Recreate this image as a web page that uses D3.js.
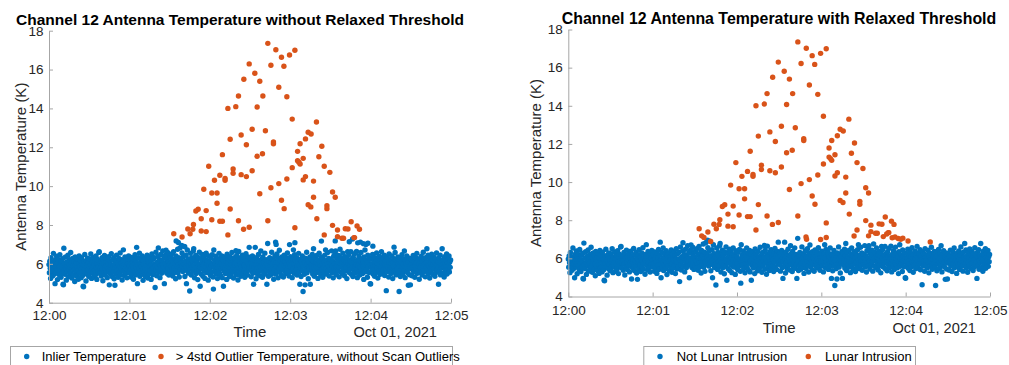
<!DOCTYPE html>
<html>
<head>
<meta charset="utf-8">
<script src="https://cdn.jsdelivr.net/npm/d3@7"></script>
<style>
  html, body { margin: 0; padding: 0; background: #ffffff; }
  svg { display: block; font-family: "Liberation Sans", Arial, Helvetica, sans-serif; }
</style>
</head>
<body>
<svg id="chart" width="1009" height="365"></svg>
<script>
// ---- data -------------------------------------------------------------
const startTime = new Date(2021, 9, 1, 12, 0, 0);
const endTime = new Date(2021, 9, 1, 12, 5, 0);
const sampleStep = 0.3;            // seconds between consecutive cold-space samples
const yTicks = [4, 6, 8, 10, 12, 14, 16, 18];
const timeTickMinutes = [0, 1, 2, 3, 4, 5];

// antenna temperature (K) of every sample that stays an inlier in both views
const inlierTemps = [
  5.96, 5.54, 6.13, 5.77, 5.25, 6.31, 5.86, 5.60, 6.09, 5.37,
  5.90, 6.54, 5.69, 6.00, 5.48, 4.98, 6.20, 5.81, 5.56, 6.39,
  5.71, 5.19, 6.04, 6.22, 5.64, 5.87, 5.42, 6.47, 5.75, 5.93,
  5.31, 6.16, 5.83, 5.52, 6.27, 4.95, 4.92, 6.80, 5.67, 6.01,
  5.46, 6.35, 5.79, 5.16, 6.10, 5.91, 5.62, 6.44, 5.33, 5.97,
  5.74, 6.21, 5.50, 5.85, 6.58, 5.55, 6.05, 5.27, 5.78, 6.28,
  5.89, 5.43, 6.14, 5.70, 5.09, 6.36, 5.94, 5.59, 6.06, 5.36,
  5.82, 6.24, 5.66, 5.21, 6.02, 6.41, 5.51, 5.87, 6.18, 5.58,
  5.29, 6.32, 5.77, 5.98, 5.40, 4.85, 4.82, 6.12, 5.73, 6.48,
  5.55, 5.90, 5.12, 6.17, 5.83, 5.47, 6.29, 5.69, 6.04, 5.35,

  5.86, 6.25, 5.50, 5.96, 6.51, 5.64, 5.25, 6.08, 5.75, 5.56,
  6.33, 5.90, 5.32, 6.01, 6.16, 5.67, 5.44, 6.40, 5.82, 5.20,
  6.05, 6.22, 5.60, 5.85, 6.59, 6.62, 5.52, 5.97, 5.77, 6.12,
  5.37, 5.89, 6.31, 5.71, 5.13, 6.18, 6.00, 5.54, 6.43, 5.79,
  5.42, 6.09, 5.91, 5.63, 6.27, 5.29, 6.02, 5.74, 6.37, 5.58,
  4.92, 5.83, 6.14, 5.48, 5.94, 6.52, 5.69, 5.35, 6.20, 5.87,
  5.59, 6.32, 5.23, 5.98, 4.90, 5.78, 6.17, 5.46, 6.45, 5.81,
  5.66, 6.06, 5.31, 5.93, 6.28, 5.55, 5.86, 6.56, 5.43, 6.04,
  5.73, 6.21, 5.17, 5.90, 6.13, 6.72, 5.62, 5.97, 5.39, 6.36,
  5.78, 5.51, 6.10, 5.85, 5.28, 6.24, 5.70, 6.01, 6.41, 5.54,

  5.89, 5.58, 6.18, 5.74, 5.32, 6.33, 5.96, 5.50, 6.10, 5.81,
  5.21, 6.25, 5.64, 6.00, 6.47, 5.42, 5.85, 6.16, 6.85, 5.70,
  4.98, 5.93, 6.31, 5.54, 5.78, 6.55, 5.36, 6.05, 5.66, 6.22,
  5.87, 5.46, 6.40, 5.75, 5.15, 6.12, 5.97, 5.60, 6.28, 5.82,
  5.35, 6.08, 5.91, 5.56, 6.44, 5.71, 5.27, 6.20, 6.02, 5.50,
  6.36, 5.86, 5.63, 6.14, 5.20, 5.94, 6.51, 5.73, 5.44, 6.24,
  5.79, 5.55, 6.32, 5.98, 4.78, 5.89, 6.60, 5.67, 5.39, 6.09,
  5.83, 6.39, 6.82, 5.59, 6.01, 6.21, 5.29, 5.90, 6.48, 5.77,
  5.51, 6.17, 5.96, 6.67, 5.64, 5.85, 6.29, 4.98, 6.02, 6.43,
  5.70, 6.70, 5.87, 5.52, 6.25, 6.58, 5.78, 6.10, 5.42, 6.35,

  5.98, 5.63, 6.35, 5.86, 5.48, 6.51, 5.74, 6.17, 5.37, 5.94,
  6.63, 5.79, 5.56, 6.27, 6.02, 5.23, 6.41, 5.69, 6.12, 5.87,
  6.75, 5.54, 5.97, 6.32, 5.32, 5.82, 6.82, 5.71, 6.20, 6.05,
  6.95, 6.56, 5.90, 5.60, 6.37, 6.00, 6.90, 5.78, 5.35, 6.14,
  5.85, 6.45, 4.98, 5.66, 6.71, 5.96, 6.25, 5.52, 5.89, 6.09,
  4.60, 5.73, 6.54, 6.01, 5.42, 6.31, 5.83, 6.13, 5.62, 6.66,
  6.78, 5.91, 5.28, 6.22, 5.77, 6.43, 5.50, 6.05, 6.18, 5.67,
  5.19, 6.33, 5.87, 5.58, 6.60, 5.97, 4.85, 5.81, 6.27, 5.46,
  6.10, 5.75, 6.48, 5.36, 5.93, 6.36, 5.64, 6.02, 5.25, 6.21,
  5.85, 6.55, 5.55, 6.00, 6.16, 5.70, 5.16, 6.40, 5.90, 5.51,

  6.09, 5.77, 5.40, 6.32, 5.89, 5.58, 6.47, 5.97, 5.32, 4.70,
  6.71, 5.82, 6.17, 5.64, 6.02, 6.39, 5.47, 5.86, 6.24, 5.24,
  5.94, 6.12, 5.70, 6.54, 5.52, 5.90, 6.29, 5.39, 6.05, 5.74,
  6.41, 5.29, 5.85, 6.20, 4.85, 6.00, 5.62, 6.35, 5.79, 5.50,
  6.14, 5.91, 5.20, 6.49, 5.71, 6.04, 6.25, 5.55, 5.87, 5.35,
  6.37, 5.78, 6.08, 5.46, 5.96, 6.58, 5.66, 5.83, 6.18, 5.27,
  6.01, 6.31, 5.59, 5.89, 6.06, 6.68, 5.43, 6.43, 5.75, 5.93,
  5.17, 6.22, 6.64, 5.81, 5.56, 6.13, 5.98, 5.36, 6.33, 5.86,
  5.69, 6.45, 5.48, 6.05, 6.21, 5.63, 5.94, 5.31, 6.28, 5.79,
  6.52, 5.54, 5.90, 6.16, 5.42, 6.01, 6.36, 5.73, 6.85, 5.85,

  5.97, 6.27, 5.66, 5.33, 6.10, 5.89, 6.41, 5.51, 6.04, 4.95,
  5.81, 6.20, 5.59, 6.85, 5.96, 5.23, 6.32, 5.74, 6.12, 5.46,
  5.91, 6.48, 5.63, 6.00, 6.17, 5.39, 5.83, 6.66, 5.70, 6.24,
  6.02, 5.31, 6.36, 5.87, 5.55, 6.08, 5.78, 6.55, 5.48, 5.93,
  6.21, 5.67, 4.95, 6.01, 7.05, 5.85, 5.36, 6.14, 5.60, 6.31,
  5.90, 5.43, 6.09, 5.75, 6.60, 5.98, 5.52, 6.25, 5.82, 5.21,
  6.18, 5.71, 6.40, 5.94, 5.47, 6.06, 5.86, 6.51, 5.62, 6.05,
  5.28, 6.28, 5.79, 6.70, 5.96, 5.56, 6.16, 5.89, 5.40, 6.35,
  5.74, 6.02, 6.22, 5.32, 5.91, 6.44, 5.64, 6.12, 5.83, 5.50,
  6.32, 5.97, 5.69, 6.56, 5.54, 5.87, 6.20, 5.37, 6.04, 5.77,

  5.85, 6.37, 5.60, 6.13, 5.94, 5.29, 6.25, 5.77, 6.72, 6.02,
  5.51, 6.47, 5.82, 6.18, 5.66, 6.00, 6.32, 5.42, 5.90, 6.09,
  5.73, 6.54, 5.58, 5.93, 4.95, 6.22, 5.81, 5.35, 6.12, 5.97,
  6.41, 5.63, 4.58, 5.87, 6.17, 5.46, 6.05, 4.92, 6.29, 5.70,
  5.91, 6.60, 5.54, 6.01, 6.21, 5.23, 5.85, 6.10, 5.75, 6.36,
  4.95, 5.96, 6.25, 5.64, 5.89, 6.48, 5.48, 6.14, 6.78, 5.79,
  5.36, 6.31, 5.98, 5.67, 6.06, 5.86, 6.43, 5.55, 6.04, 5.25,
  6.20, 5.78, 6.55, 5.60, 5.94, 6.12, 5.43, 5.90, 6.35, 5.71,
  6.02, 5.31, 6.24, 5.83, 6.09, 5.52, 6.45, 5.93, 6.72, 5.74,
  5.47, 6.17, 6.00, 6.58, 5.63, 5.87, 6.28, 5.37, 6.08, 5.81,

  6.22, 5.70, 5.97, 6.67, 5.54, 5.90, 6.14, 5.28, 6.39, 5.78,
  6.02, 6.51, 5.62, 6.66, 5.86, 5.44, 6.27, 5.94, 6.10, 5.66,
  6.43, 5.82, 5.33, 6.18, 6.75, 6.00, 5.58, 6.32, 5.89, 6.08,
  5.50, 6.55, 5.74, 6.05, 6.20, 5.39, 5.93, 6.37, 5.63, 6.13,
  5.85, 5.24, 6.28, 6.62, 5.70, 6.01, 6.47, 5.55, 5.90, 6.17,
  5.75, 6.63, 5.46, 5.97, 6.24, 5.81, 5.35, 6.33, 6.05, 5.66,
  6.52, 5.87, 5.52, 6.12, 5.96, 6.64, 5.71, 5.29, 6.21, 5.91,
  5.60, 6.40, 6.02, 5.42, 6.16, 5.83, 6.59, 5.67, 5.98, 6.27,
  5.50, 5.89, 6.09, 5.20, 6.35, 5.78, 6.71, 5.59, 5.94, 6.18,
  5.73, 6.04, 5.31, 6.44, 5.86, 6.06, 5.56, 6.29, 5.96, 4.98,

  4.96, 5.81, 6.25, 5.64, 6.00, 6.48, 5.48, 5.87, 6.14, 5.71,
  5.36, 6.32, 5.93, 6.10, 5.56, 6.56, 5.79, 6.02, 5.27, 6.21,
  5.90, 5.63, 6.39, 5.97, 5.46, 6.17, 5.77, 6.63, 5.86, 6.06,
  5.52, 6.28, 5.70, 6.00, 6.45, 5.40, 5.91, 6.13, 5.74, 4.62,
  5.94, 6.35, 5.60, 5.85, 6.22, 5.32, 6.51, 6.04, 5.69, 5.89,
  6.16, 5.50, 5.98, 6.41, 5.78, 5.24, 6.09, 5.87, 6.27, 5.58,
  5.96, 6.58, 5.66, 5.43, 6.20, 5.83, 6.06, 5.74, 6.36, 6.01,
  5.54, 4.58, 5.90, 6.31, 5.35, 6.05, 6.12, 5.71, 6.47, 5.82,
  5.47, 5.97, 6.24, 5.63, 6.66, 5.89, 5.29, 6.17, 6.02, 5.67,
  6.40, 5.79, 5.55, 6.08, 4.90, 5.94, 6.29, 5.44, 5.86, 4.92,

  5.75, 6.22, 6.00, 5.39, 6.14, 5.83, 6.43, 5.60, 5.96, 6.10,
  5.31, 5.91, 6.33, 5.71, 6.04, 6.54, 5.51, 5.87, 6.18, 5.66,
  5.98, 5.21, 6.27, 5.81, 6.08, 5.56, 6.39, 5.93, 5.42, 6.16,
  5.77, 6.60, 5.89, 5.59, 6.24, 6.01, 5.33, 6.32, 5.85, 6.06,
  6.78, 5.69, 5.97, 6.44, 5.50, 5.90, 6.13, 5.27, 6.28, 5.79,
  6.02, 5.64, 6.49, 5.86, 6.20, 5.46, 5.94, 6.36, 5.74, 6.09,
  5.36, 6.25, 5.91, 5.55, 6.56, 5.98, 5.70, 6.14, 5.83, 4.95,
  6.31, 5.62, 6.05, 6.45, 5.43, 5.89, 6.12, 5.78, 6.78, 5.96,
  5.52, 6.21, 5.85, 5.32, 6.37, 6.01, 5.67, 6.17, 5.90, 6.51,
  5.48, 6.04, 6.27, 5.74, 5.93, 6.41, 5.58, 6.09, 5.82, 6.20
];

// samples above the 4-sigma threshold (seconds after 12:00, K)
const lunarSeconds = [
  163.3, 169.3, 183.5, 179.5, 173.5, 149.4, 165.6, 175.3, 153.6, 145.4,
  157.3, 171.5, 141.4, 159.6, 177.5, 133.5, 139.4, 155.3, 181.5, 199.6,
  151.6, 161.5, 143.4, 193.4, 195.6, 191.4, 135.2, 167.5, 167.5, 187.4,
  147.3, 203.6, 159.3, 129.4, 155.3, 201.4, 185.5, 185.5, 186.5, 187.4,
  189.7, 119.2, 181.5, 205.4, 137.4, 151.6, 209.6, 137.4, 143.4, 127.5,
  147.3, 191.4, 131.4, 131.4, 123.5, 177.5, 189.7, 197.4, 171.5, 165.6,
  115.5, 211.6, 121.5, 125.4, 157.3, 213.6, 197.4, 173.5, 125.4, 193.4,
  195.4, 207.4, 207.4, 175.5, 135.2, 111.3, 109.6, 117.3, 113.6, 199.9,
  121.5, 127.5, 129.4, 141.4, 163.3, 107.8, 211.6, 225.5, 149.4, 183.5,
  229.9, 145.2, 221.1, 223.1, 231.7, 103.6, 113.6, 117.3, 215.3, 107.3,
  105.3, 93.1, 133.5, 205.4, 99.3, 215.3, 228.0, 218.6, 219.8, 227.6
];
const lunarTemps = [
  17.35, 17.02, 16.99, 16.75, 16.63, 16.29, 16.22, 16.17, 15.81, 15.50,
  15.40, 15.09, 14.64, 14.64, 14.60, 14.00, 14.09, 14.07, 13.45, 13.30,
  12.93, 12.85, 12.63, 12.77, 12.68, 12.43, 12.41, 12.27, 12.18, 12.18,
  12.13, 12.05, 11.67, 11.62, 11.54, 11.51, 11.79, 11.31, 11.23, 11.14,
  11.43, 11.02, 10.95, 11.02, 10.88, 10.79, 10.71, 10.66, 10.59, 10.56,
  10.49, 10.49, 10.40, 10.30, 10.30, 10.37, 10.32, 10.26, 10.13, 9.92,
  9.84, 9.70, 9.65, 9.65, 9.61, 9.43, 9.43, 9.27, 9.12, 9.04,
  8.93, 8.99, 8.84, 8.84, 8.82, 8.81, 8.72, 8.74, 8.32, 8.32,
  8.27, 8.19, 8.19, 8.22, 8.22, 8.03, 7.98, 8.17, 7.88, 7.86,
  7.95, 7.78, 7.81, 7.79, 7.78, 7.79, 7.69, 7.66, 7.74, 7.78,
  7.55, 7.55, 7.49, 7.49, 7.38, 7.40, 7.35, 7.32, 7.32, 7.35
];

// samples that only the relaxed threshold flags as lunar intrusion
const relaxedSeconds = [
  94.9, 96.5, 101.3, 169.1, 169.5, 179.5, 183.5, 203.3, 213.6,
  224.1, 226.5, 230.4, 232.4, 234.7, 236.5, 238.0, 241.7, 257.5
];
const relaxedTemps = [
  7.18, 7.10, 6.88, 7.12, 7.00, 6.99, 7.09, 7.17, 7.18,
  7.14, 7.28, 7.08, 7.12, 7.04, 7.00, 7.06, 6.91, 6.86
];

// ---- styling ----------------------------------------------------------
const blue = "#0072BD";
const orange = "#D95319";
const axisColor = "#a6a6a6";
const textColor = "#262626";
const dotR = 2.7;

const panels = [
  {
    title: "Channel 12 Antenna Temperature without Relaxed Threshold",
    titleX: 240, titleY: 25, titleSize: 15.5,
    left: 49, right: 451, top: 30.7, bottom: 302.7,
    xPad: 7.7, yLabelX: 25.5, timeY: 337,
    relaxedIsLunar: false,
    legend: {
      x: 10, w: 442, y: 346,
      items: [
        { label: "Inlier Temperature", color: blue, mx: 26.7, tx: 41.7 },
        { label: "> 4std Outlier Temperature, without Scan Outliers", color: orange, mx: 161, tx: 175.7 }
      ]
    }
  },
  {
    title: "Channel 12 Antenna Temperature with Relaxed Threshold",
    titleX: 779, titleY: 24, titleSize: 15.9,
    left: 568.3, right: 990, top: 29.5, bottom: 296.5,
    xPad: 8.9, yLabelX: 541, timeY: 333,
    relaxedIsLunar: true,
    legend: {
      x: 643.3, w: 271.7, y: 346,
      items: [
        { label: "Not Lunar Intrusion", color: blue, mx: 660, tx: 676.7 },
        { label: "Lunar Intrusion", color: orange, mx: 808.3, tx: 825 }
      ]
    }
  }
];

// ---- build point sets -------------------------------------------------
const atSeconds = s => new Date(startTime.getTime() + s * 1000);
const inlierPts = inlierTemps.map((v, i) => ({ t: atSeconds(i * sampleStep), v }));
const lunarPts = lunarSeconds.map((s, i) => ({ t: atSeconds(s), v: lunarTemps[i] }));
const relaxedPts = relaxedSeconds.map((s, i) => ({ t: atSeconds(s), v: relaxedTemps[i] }));

const svg = d3.select("#chart");
const fmt = d3.timeFormat("%H:%M");

panels.forEach(p => {
  const x = d3.scaleTime().domain([startTime, endTime]).range([p.left, p.right]);
  const y = d3.scaleLinear().domain([4, 18]).range([p.bottom, p.top]);
  const g = svg.append("g");

  // markers: inliers first, flagged samples drawn on top
  const bluePts = p.relaxedIsLunar ? inlierPts : inlierPts.concat(relaxedPts);
  const orangePts = p.relaxedIsLunar ? lunarPts.concat(relaxedPts) : lunarPts;

  g.append("g").selectAll("circle").data(bluePts).join("circle")
    .attr("cx", d => x(d.t)).attr("cy", d => y(d.v)).attr("r", dotR).attr("fill", blue);
  g.append("g").selectAll("circle").data(orangePts).join("circle")
    .attr("cx", d => x(d.t)).attr("cy", d => y(d.v)).attr("r", dotR).attr("fill", orange);

  // axes (left and bottom only, ticks pointing inward)
  const xAxis = d3.axisBottom(x)
    .tickValues(timeTickMinutes.map(m => d3.timeMinute.offset(startTime, m)))
    .tickFormat(fmt).tickSize(-4).tickSizeOuter(0).tickPadding(p.xPad);
  const yAxis = d3.axisLeft(y)
    .tickValues(yTicks).tickSize(-4).tickSizeOuter(0).tickPadding(5.5);

  const gx = g.append("g").attr("transform", `translate(0,${p.bottom})`).call(xAxis);
  const gy = g.append("g").attr("transform", `translate(${p.left},0)`).call(yAxis);
  [gx, gy].forEach(a => {
    a.attr("font-family", null).attr("font-size", null);
    a.select(".domain").attr("stroke", axisColor);
    a.selectAll(".tick line").attr("stroke", axisColor);
    a.selectAll(".tick text").attr("fill", textColor).style("font-size", "13.5px");
  });

  // titles and axis labels
  g.append("text").attr("x", p.titleX).attr("y", p.titleY)
    .attr("text-anchor", "middle").style("font-weight", "bold")
    .style("font-size", p.titleSize + "px").attr("fill", "#000").text(p.title);

  g.append("text").attr("x", (p.left + p.right) / 2).attr("y", p.timeY)
    .attr("text-anchor", "middle").style("font-size", "15px").attr("fill", textColor).text("Time");
  g.append("text").attr("x", p.right - 14).attr("y", p.timeY)
    .attr("text-anchor", "end").style("font-size", "14.6px").attr("fill", textColor).text("Oct 01, 2021");

  g.append("text")
    .attr("transform", `translate(${p.yLabelX},${(p.top + p.bottom) / 2}) rotate(-90)`)
    .attr("text-anchor", "middle").style("font-size", "15px").attr("fill", textColor)
    .text("Antenna Temperature (K)");

  // legend box
  const lg = g.append("g");
  lg.append("rect").attr("x", p.legend.x + 0.5).attr("y", p.legend.y + 0.5)
    .attr("width", p.legend.w).attr("height", 30)
    .attr("fill", "#fff").attr("stroke", axisColor);
  p.legend.items.forEach(it => {
    lg.append("circle").attr("cx", it.mx).attr("cy", p.legend.y + 10.5).attr("r", dotR).attr("fill", it.color);
    lg.append("text").attr("x", it.tx).attr("y", p.legend.y + 15)
      .style("font-size", "13px").attr("fill", "#000").text(it.label);
  });
});
</script>
</body>
</html>
